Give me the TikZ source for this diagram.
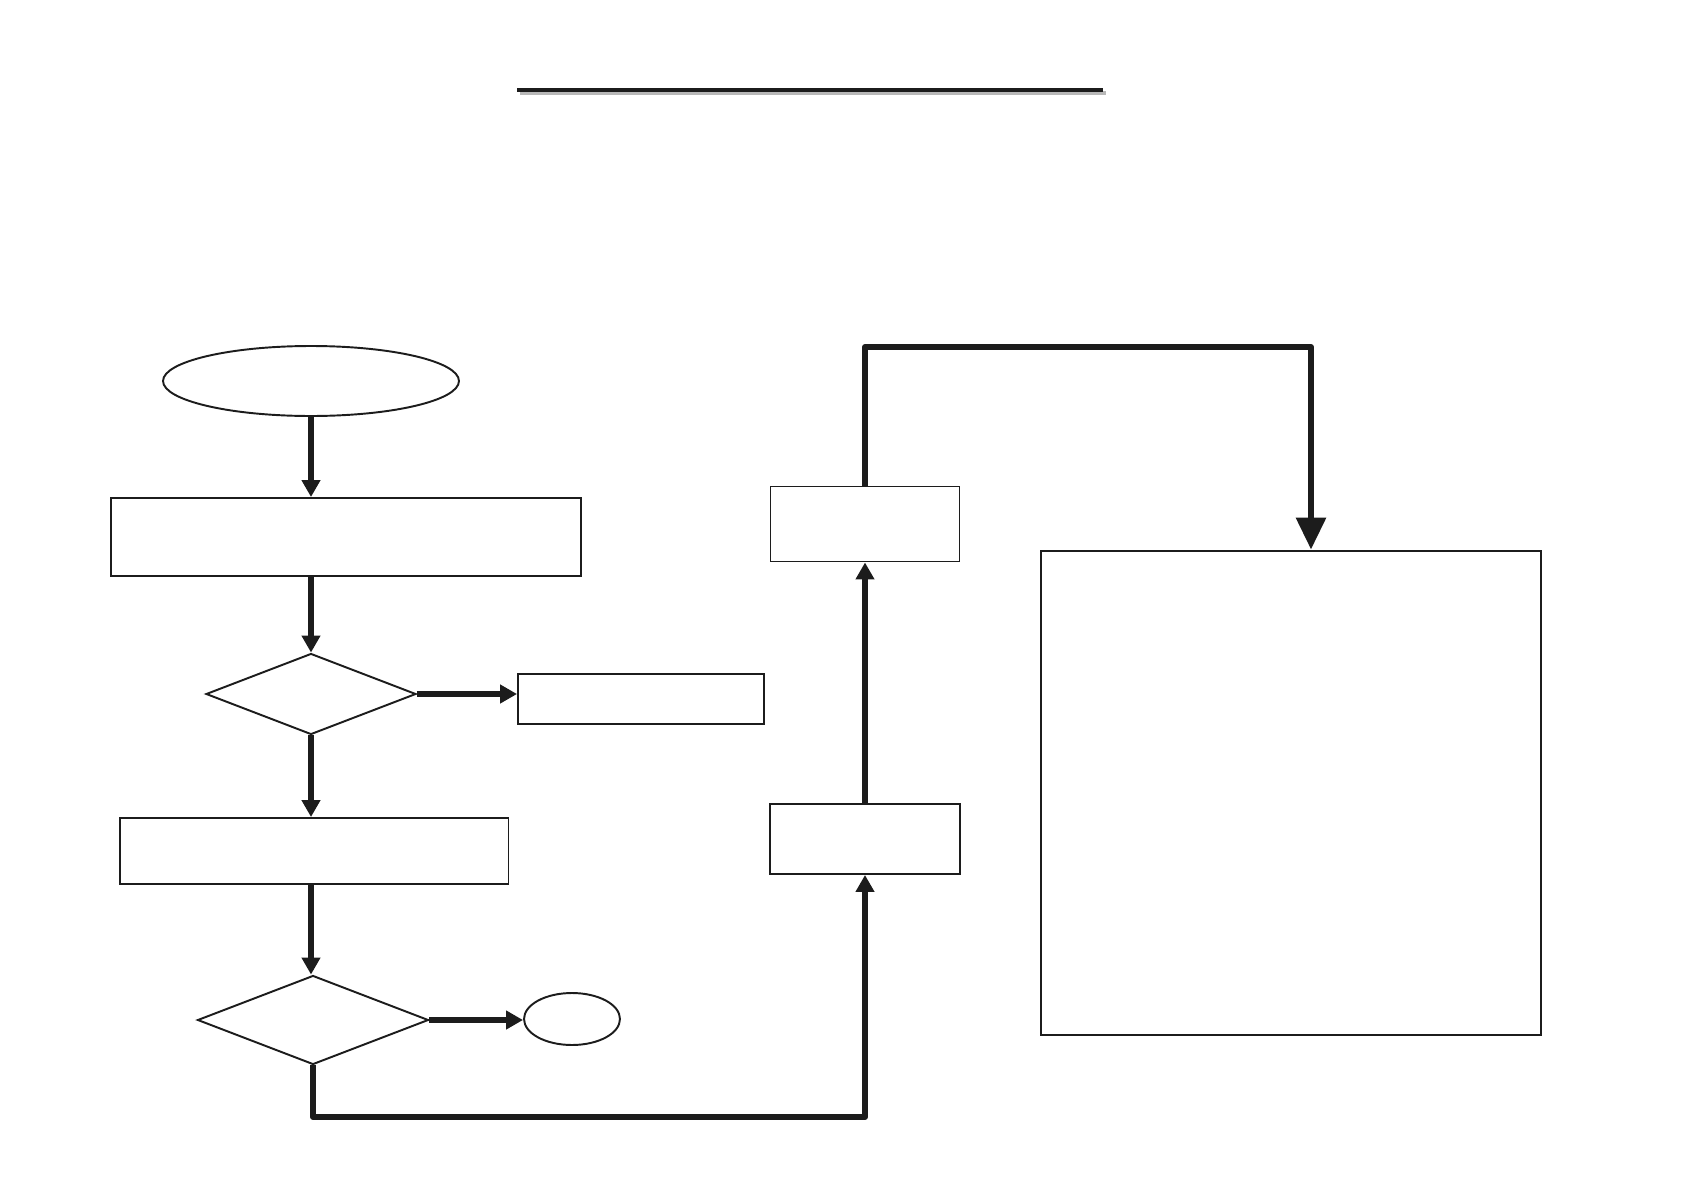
\documentclass[tikz,border=0pt]{standalone}
\usetikzlibrary{arrows.meta,shapes.geometric}

\tikzset{
    procbox/.style={draw=borderColour, line width=1.1pt, rectangle, inner sep=0pt},
    termnode/.style={draw=borderColour, line width=1.1pt, ellipse, inner sep=0pt},
    decnode/.style={draw=borderColour, line width=1.1pt, diamond, inner sep=0pt},
    flowline/.style={draw=borderColour, line width=3.5pt, line join=round,
        -{Triangle[length=0.34cm, width=0.36cm]}},
    bigflow/.style={flowline, -{Triangle[length=0.64cm, width=0.58cm]}}
}

\begin{document}
\begin{tikzpicture}[x=0.02cm, y=-0.02cm]
    \definecolor{borderColour}{HTML}{1C1C1C}
    \definecolor{shadowColour}{HTML}{B8B8B8}

    % Page
    \useasboundingbox (0,0) rectangle (1684,1190);

    % Title rule with its shadow
    \draw[shadowColour, line width=2.4pt] (520,93) -- (1106,93);
    \draw[borderColour, line width=2.4pt] (517,90) -- (1103,90);

    % Left column
    \node[termnode, minimum width=5.92cm, minimum height=1.4cm] (start) at (311,381) {};
    \node[procbox, minimum width=9.4cm, minimum height=1.56cm] (stepA) at (346,537) {};
    \node[decnode, minimum width=4.2cm, minimum height=1.62cm] (decA) at (311,694) {};
    \node[procbox, minimum width=4.92cm, minimum height=1.0cm] (sideA) at (641,699) {};
    \node[procbox, minimum width=7.78cm, minimum height=1.32cm] (stepB) at (314,851) {};
    \node[decnode, minimum width=4.62cm, minimum height=1.78cm] (decB) at (313,1020) {};
    \node[termnode, minimum width=1.92cm, minimum height=1.04cm] (stop) at (572,1019) {};

    % Middle column
    \node[procbox, minimum width=3.8cm, minimum height=1.4cm] (midB) at (865,839) {};
    \node[procbox, minimum width=3.78cm, minimum height=1.5cm] (midA) at (865,524) {};

    % Right panel
    \node[procbox, minimum width=10cm, minimum height=9.7cm] (panel) at (1291,793) {};

    \coordinate (loopLow) at (313,1117);
    \coordinate (loopTop) at (1311,347);

    % Connectors
    \draw[flowline] (start.south) -- (start.south |- stepA.north);
    \draw[flowline] (decA.north |- stepA.south) -- (decA.north);
    \draw[flowline] (decA.east) -- (decA.east -| sideA.west);
    \draw[flowline] (decA.south) -- (decA.south |- stepB.north);
    \draw[flowline] (decA.south |- stepB.south) -- (decA.south |- decB.north);
    \draw[flowline] (decB.east) -- (decB.east -| stop.west);
    \draw[flowline] (decB.south) -- (loopLow) -| (midB.south);
    \draw[flowline] (midB.north) -- (midA.south);
    \draw[bigflow] (midA.north) |- (loopTop) -- (loopTop |- panel.north);

\end{tikzpicture}
\end{document}
